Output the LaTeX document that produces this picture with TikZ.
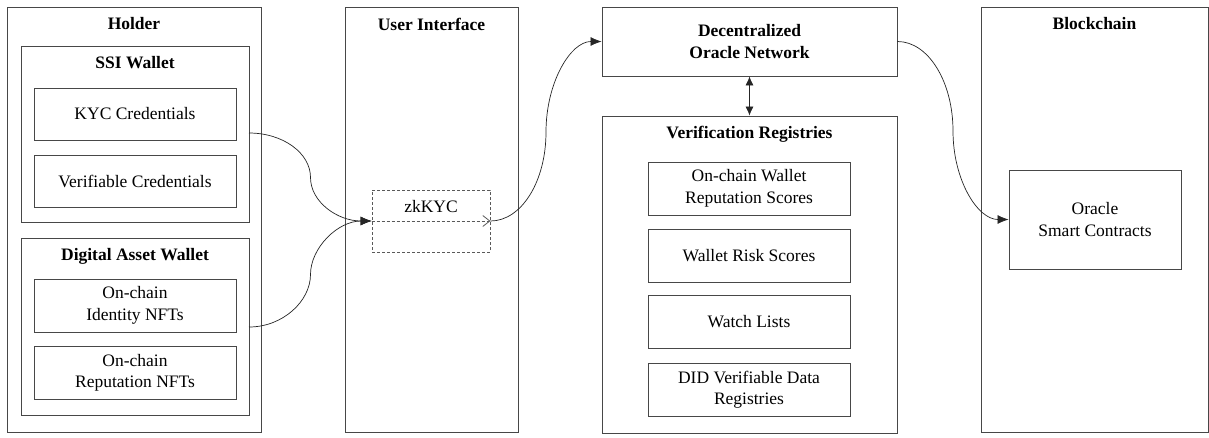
\documentclass[tikz,border=0pt]{standalone}
\usepackage{fontspec}
\setmainfont{Liberation Serif}
\usetikzlibrary{arrows.meta}
\newcommand\dfont{\fontsize{17.5}{21.5}\selectfont}
\begin{document}
\begin{tikzpicture}[x=1pt,y=-1pt,
  box/.style={draw=black!72, line width=0.9pt, rectangle, inner sep=0pt},
  ttl/.style={font=\dfont\bfseries, inner sep=0pt, align=center},
  txt/.style={font=\dfont, align=center, inner sep=0pt},
  item/.style={box, font=\dfont, align=center, minimum width=202pt, minimum height=53pt},
  link/.style={draw=black!85, line width=0.7pt, -{Latex[length=11pt,width=9pt]}},
  dashbox/.style={draw=black!65, line width=0.8pt, dash pattern=on 3pt off 2pt},
]
\useasboundingbox (0,0) rectangle (1209,437);

% Holder column
\node[box, minimum width=254pt, minimum height=425pt] (holder) at (134,219.5) {};
\node[ttl] (holderT) at (134,24) {Holder};
\node[box, minimum width=228pt, minimum height=176pt] (ssi) at (135,134) {};
\node[ttl] (ssiT) at (135,63) {SSI Wallet};
\node[item, minimum height=52pt] (kyc) at (135,114) {KYC Credentials};
\node[item, minimum height=52pt] (vc) at (135,181) {Verifiable Credentials};
\node[box, minimum width=228pt, minimum height=177pt] (daw) at (135,326.5) {};
\node[ttl] (dawT) at (135,256) {Digital Asset Wallet};
\node[item] (idnft) at (135,305.5) {On-chain\\Identity NFTs};
\node[item] (repnft) at (135,373) {On-chain\\Reputation NFTs};

% User interface column
\node[box, minimum width=173pt, minimum height=425pt] (ui) at (431.5,219.5) {};
\node[ttl] (uiT) at (431.5,24) {User Interface};
\node[dashbox, minimum width=118pt, minimum height=62pt, inner sep=0pt] (zk) at (431,221) {};
\node[txt] (zkT) at (431,207) {zkKYC};
\draw[dashbox, -{Straight Barb[length=7pt,width=11pt]}] (zk.west) -- (zk.east);

% Oracle network and registries
\node[box, minimum width=295pt, minimum height=69pt, font=\dfont\bfseries, align=center] (don) at (749.5,41.5) {Decentralized\\Oracle Network};
\node[box, minimum width=295pt, minimum height=317pt] (vr) at (749.5,274.5) {};
\node[ttl] (vrT) at (749.5,134) {Verification Registries};
\node[item] (rep) at (749,188.5) {On-chain Wallet\\Reputation Scores};
\node[item] (risk) at (749,255.5) {Wallet Risk Scores};
\node[item] (watch) at (749,322) {Watch Lists};
\node[item] (did) at (749,389.5) {DID Verifiable Data\\Registries};

% Blockchain column
\node[box, minimum width=227pt, minimum height=425pt] (chain) at (1094.5,219.5) {};
\node[ttl] (chainT) at (1094.5,24) {Blockchain};
\node[item, minimum width=172pt, minimum height=99pt] (osc) at (1095,219.5) {Oracle\\Smart Contracts};

% Connectors
\coordinate (kycout) at (249,133);
\coordinate (idout) at (249,327);
\coordinate (m1) at (310.5,177.5);
\coordinate (m2) at (310.5,274.5);
\coordinate (m3) at (546,132);
\coordinate (m4) at (953,131);
\draw[link] (kycout) .. controls +(34,0) and +(0,-24.5) .. (m1)
                     .. controls +(0,24.5) and +(-34,0) .. (zk.west);
\draw[link] (idout) .. controls +(34,0) and +(0,26.5) .. (m2)
                    .. controls +(0,-26.5) and +(-34,0) .. (zk.west);
\draw[link] (zk.east) .. controls +(31,0) and +(0,49.5) .. (m3)
                      .. controls +(0,-49.5) and +(-31,0) .. (don.west);
\draw[link] (don.east) .. controls +(31,0) and +(0,-49) .. (m4)
                       .. controls +(0,49) and +(-31,0) .. (osc.west);
\draw[draw=black!85, line width=0.7pt, {Latex[length=9pt,width=8pt]}-{Latex[length=9pt,width=8pt]}] (don.south) -- (vr.north);
\end{tikzpicture}
\end{document}
